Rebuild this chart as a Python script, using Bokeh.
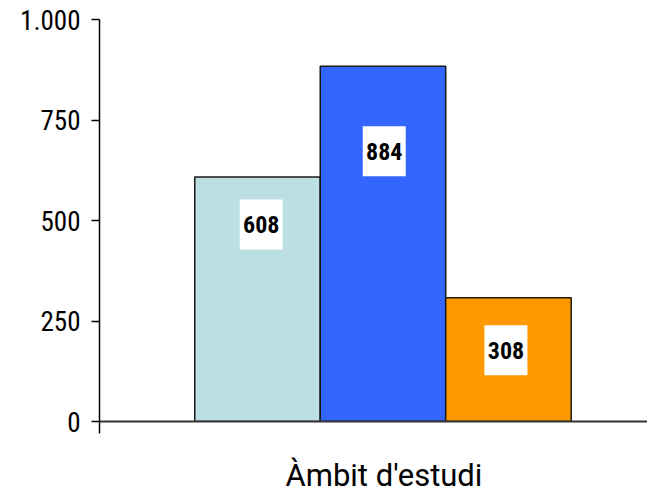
from bokeh.plotting import figure
from bokeh.models import Range1d, FixedTicker, LinearAxis, Title
from bokeh.core.properties import value
from bokeh.embed import file_html
from bokeh.resources import INLINE

# data
categories = ["A", "B", "C"]
values = [608, 884, 308]
colors = ["#BBDFE2", "#3366FF", "#FF9900"]
y_ticks = [0, 250, 500, 750, 1000]
y_tick_labels = ["0", "250", "500", "750", "1.000"]
x_label = "Àmbit d'estudi"

# layout helpers (positions, not data)
bar_x = [1, 2, 3]
label_x = [1.03, 2.01, 2.98]
label_y = [490, 672, 177]

FONT = "Roboto Condensed, Roboto, sans-serif"

p = figure(width=647, height=496, output_backend="svg", toolbar_location=None,
           x_range=Range1d(-0.259, 4.108), y_range=Range1d(0, 1000),
           min_border_left=99, min_border_right=0, min_border_top=19, min_border_bottom=75,
           x_axis_type=None, y_axis_type=None)
p.outline_line_color = None
p.background_fill_color = "white"
p.border_fill_color = "white"

yaxis = LinearAxis(ticker=FixedTicker(ticks=y_ticks))
yaxis.major_label_overrides = {t: l for t, l in zip(y_ticks, y_tick_labels)}
yaxis.axis_line_color = "black"
yaxis.axis_line_width = 1.5
yaxis.major_tick_line_color = "black"
yaxis.major_tick_line_width = 1.5
yaxis.major_tick_in = 0
yaxis.major_tick_out = 8
yaxis.minor_tick_line_color = None
yaxis.major_label_text_font = FONT
yaxis.major_label_text_font_size = "27px"
yaxis.major_label_text_color = "black"
yaxis.major_label_standoff = 11
p.add_layout(yaxis, "left")

xaxis = LinearAxis(ticker=FixedTicker(ticks=[-0.259]))
xaxis.axis_line_color = "#333333"
xaxis.axis_line_width = 2
xaxis.major_tick_line_color = "black"
xaxis.major_tick_line_width = 1.5
xaxis.major_tick_in = 0
xaxis.major_tick_out = 12
xaxis.minor_tick_line_color = None
xaxis.major_label_text_alpha = 0
xaxis.major_label_text_font_size = "1px"
p.add_layout(xaxis, "below")

# invisible spacer axis to push the category title down
spacer = LinearAxis(ticker=FixedTicker(ticks=[2]))
spacer.axis_line_color = None
spacer.major_tick_line_color = None
spacer.minor_tick_line_color = None
spacer.major_tick_in = 0
spacer.major_tick_out = 19
spacer.major_label_text_alpha = 0
spacer.major_label_text_font_size = "1px"
spacer.major_label_standoff = 0
p.add_layout(spacer, "below")

p.ygrid.ticker = FixedTicker(ticks=y_ticks[1:])
p.ygrid.grid_line_color = "#808080"
p.ygrid.grid_line_width = 1.8
p.xgrid.grid_line_color = None

p.vbar(x=bar_x, top=values, width=1, fill_color=colors, line_color="#1a1a1a", line_width=1.5)

p.rect(x=label_x, y=label_y, width=43, height=50, width_units="screen", height_units="screen",
       fill_color="white", line_color=None)
p.text(x=label_x, y=label_y, text=[str(v) for v in values], text_align="center",
       text_baseline="middle", text_font=value(FONT), text_font_style="bold",
       text_font_size="24px", text_color="black")

p.add_layout(Title(text=x_label, align="left", offset=186, text_font="Roboto",
                   text_font_size="31px", text_font_style="normal", text_color="black",
                   standoff=4), "below")

open("out.html", "w").write(file_html(p, INLINE))
